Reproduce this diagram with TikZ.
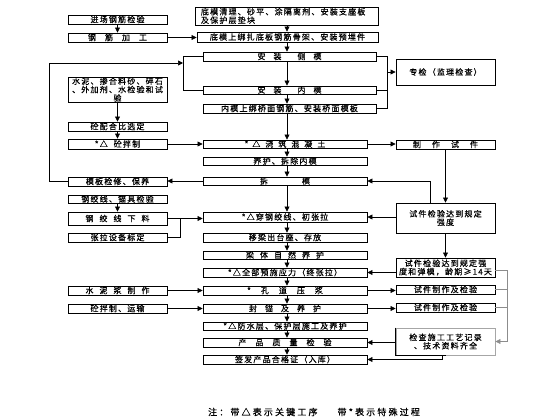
\documentclass[tikz,border=0pt]{standalone}
\usepackage{fontspec}
\usetikzlibrary{arrows.meta}
\newfontfamily\cjk{Noto Sans CJK SC}[LetterSpace=15,FakeBold=0.6]
\newfontfamily\cjknote{Noto Sans CJK SC}[LetterSpace=24,FakeBold=0.6]
\newcommand\g{\hspace{6pt}}
\newcommand\mybox[6]{\node[box, minimum width={(#4-#2)*1pt}, minimum height={(#5-#3)*1pt}] (#1) at ({(#2+#4)/2},{(#3+#5)/2}) {#6};}
\tikzset{
  box/.style={draw, line width=0.9pt, inner sep=0pt, align=center, font=\cjk\fontsize{8}{8.4}\selectfont},
  ln/.style={line width=0.7pt},
  arr/.style={ln, -{Triangle[length=5pt,width=5pt]}},
}
\begin{document}
\begin{tikzpicture}[x=1pt,y=-1pt]
\useasboundingbox (0,0) rectangle (560,420);
% left column
\mybox{L1}{68}{15}{167}{24}{进场钢筋检验}
\mybox{L2}{68}{33}{167}{42}{钢\hspace{9pt}筋\hspace{9pt}加\hspace{9pt}工}
\mybox{L3}{68}{77}{167}{102}{水泥、掺合料砂、碎石\\、外加剂、水检验和试\\验}
\mybox{L4}{68}{122}{167}{131}{砼配合比选定}
\mybox{L5}{68}{139}{167}{149}{*△\g 砼拌制}
\mybox{L6}{68}{177}{167}{186}{模板检修、保养}
\mybox{L7}{68}{195}{167}{203}{钢绞线、锚具检验}
\mybox{L8}{68}{212}{167}{225}{钢\g 绞\g 线\g 下\g 料}
\mybox{L9}{68}{233}{167}{242}{张拉设备标定}
\mybox{L10}{68}{286}{167}{295}{水\g 泥\g 浆\g 制\g 作}
\mybox{L11}{68}{304}{167}{313}{砼拌制、运输}
% centre column
\node[box, align=left, minimum width=183pt, minimum height=18pt, text width=171pt] (C1) at (286.5,16) {底模清理、砂平、涂隔离剂、安装支座板\\及保护层垫块};
\mybox{C2}{197}{32}{378}{42}{底模上绑扎底板钢筋骨架、安装预埋件}
\mybox{C3}{203}{52}{376}{61}{安\hspace{8pt}装\hspace{16pt}侧\hspace{8pt}模}
\mybox{C4}{203}{86}{376}{94}{安\hspace{8pt}装\hspace{16pt}内\hspace{8pt}模}
\mybox{C5}{203}{104}{376}{113}{内模上绑桥面钢筋、安装桥面模板}
\mybox{C6}{203}{140}{367}{148}{*\hspace{4pt}△\hspace{5pt}浇\hspace{5pt}筑\hspace{5pt}混\hspace{5pt}凝\hspace{5pt}土}
\mybox{C7}{203}{157}{367}{165}{养护、拆除内模}
\mybox{C8}{203}{177}{367}{185}{拆\hspace{34pt}模}
\mybox{C9}{203}{212}{367}{222}{*△穿钢绞线、初张拉}
\mybox{C10}{203}{233}{367}{242}{移梁出台座、存放}
\mybox{C11}{203}{251}{367}{259}{梁\g 体\g 自\g 然\g 养\g 护}
\mybox{C12}{203}{268}{367}{277}{*△全部预施应力（终张拉）}
\mybox{C13}{203}{286}{367}{295}{*\hspace{10pt}孔\hspace{10pt}道\hspace{10pt}压\hspace{10pt}浆}
\mybox{C14}{203}{304}{367}{313}{封\hspace{8pt}锚\hspace{8pt}及\hspace{8pt}养\hspace{8pt}护}
\mybox{C15}{203}{322}{367}{330}{*△防水层、保护层施工及养护}
\mybox{C16}{203}{338}{367}{347}{产\hspace{9pt}品\hspace{9pt}质\hspace{9pt}量\hspace{9pt}检\hspace{9pt}验}
\mybox{C17}{203}{355}{367}{364}{签发产品合格证（入库）}
% right column
\mybox{R1}{396}{59}{495}{85}{专检（监理检查）}
\mybox{R2}{396}{140}{495}{149}{制\hspace{11pt}作\hspace{11pt}试\hspace{11pt}件}
\mybox{R3}{396}{203}{495}{233}{试件检验达到规定\\强度}
\mybox{R4}{396}{258}{495}{277}{试件检验达到规定强\\度和弹模，龄期≥14天}
\mybox{R5}{396}{285}{495}{294}{试件制作及检验}
\mybox{R6}{396}{303}{495}{312}{试件制作及检验}
\node[box, draw=black!35, minimum width=99pt, minimum height=27pt] (R7) at (445.5,341.5) {检查施工工艺记录\\、技术资料齐全};
\draw[line width=0.9pt] (R7.north west) -- (R7.south west) -- (R7.south);
% helper coordinates
\coordinate (ax) at (287,0);
\coordinate (bl) at (183,63);
\coordinate (bl1) at (183,56.5);
\coordinate (rb1) at (387,56.5);
\coordinate (lb) at (180,218.5);
\coordinate (rr) at (507,270);
% centre chain
\foreach \a/\b in {C1/C2,C2/C3,C3/C4,C4/C5,C5/C6,C6/C7,C7/C8,C8/C9,C9/C10,C10/C11,C11/C12,C12/C13,C13/C14,C14/C15,C15/C16,C16/C17}
  \draw[arr] (\a.south -| ax) -- (\b.north -| ax);
% left chain
\foreach \a/\b in {L1/L2,L3/L4,L4/L5,L7/L8}
  \draw[arr] (\a.south) -- (\b.north);
\draw[arr] (L2.east) -- (L2.east -| C2.west);
\draw[arr] (L5.east) -- (L5.east -| C6.west);
\draw[arr] (C8.west) -- (C8.west -| L6.east);
\draw[arr] (L6.west) -- ++(-18,0) |- (bl);
\draw[ln] (C3.west) -- (bl1) |- (C4.west);
\draw[ln] (L9.east) -| (lb);
\draw[arr] (L8.east) -- (L8.east -| C9.west);
\draw[arr] (L10.east) -- (L10.east -| C13.west);
\draw[arr] (L11.east) -- (L11.east -| C14.west);
% right side
\draw[ln] (C3.east) -- (rb1) |- (C5.east);
\draw[ln] (C4.east) -- (C4.east -| rb1);
\draw[arr] (rb1 |- R1.west) -- (R1.west);
\draw[arr] (C6.east) -- (C6.east -| R2.west);
\draw[arr] (R2.south) -- (R3.north);
\draw[arr] ([xshift=35pt]R3.north west) |- (C8.east);
\draw[arr] (R3.west |- C9.east) -- (C9.east);
\draw[arr] (R3.south) -- (R4.north);
\draw[arr] (R4.west |- C12.east) -- (C12.east);
\draw[arr] (C13.east) -- (C13.east -| R5.west);
\draw[arr] (C14.east) -- (C14.east -| R6.west);
\draw[arr, draw=black!45] (R4.east |- rr) -- (rr) |- (R7.east);
\draw[ln, black!45] (R5.east) -- (R5.east -| rr);
\draw[ln, black!45] (R6.east) -- (R6.east -| rr);
\draw[arr] (R7.west |- C16.east) -- (C16.east);
\draw[arr] ([xshift=47pt]R7.south west) |- (C17.east);
% note
\node[font=\cjknote\fontsize{9}{10}\selectfont] (note) at (314,412) {注：带△表示关键工序\hspace{20pt}带*表示特殊过程};
\end{tikzpicture}
\end{document}
